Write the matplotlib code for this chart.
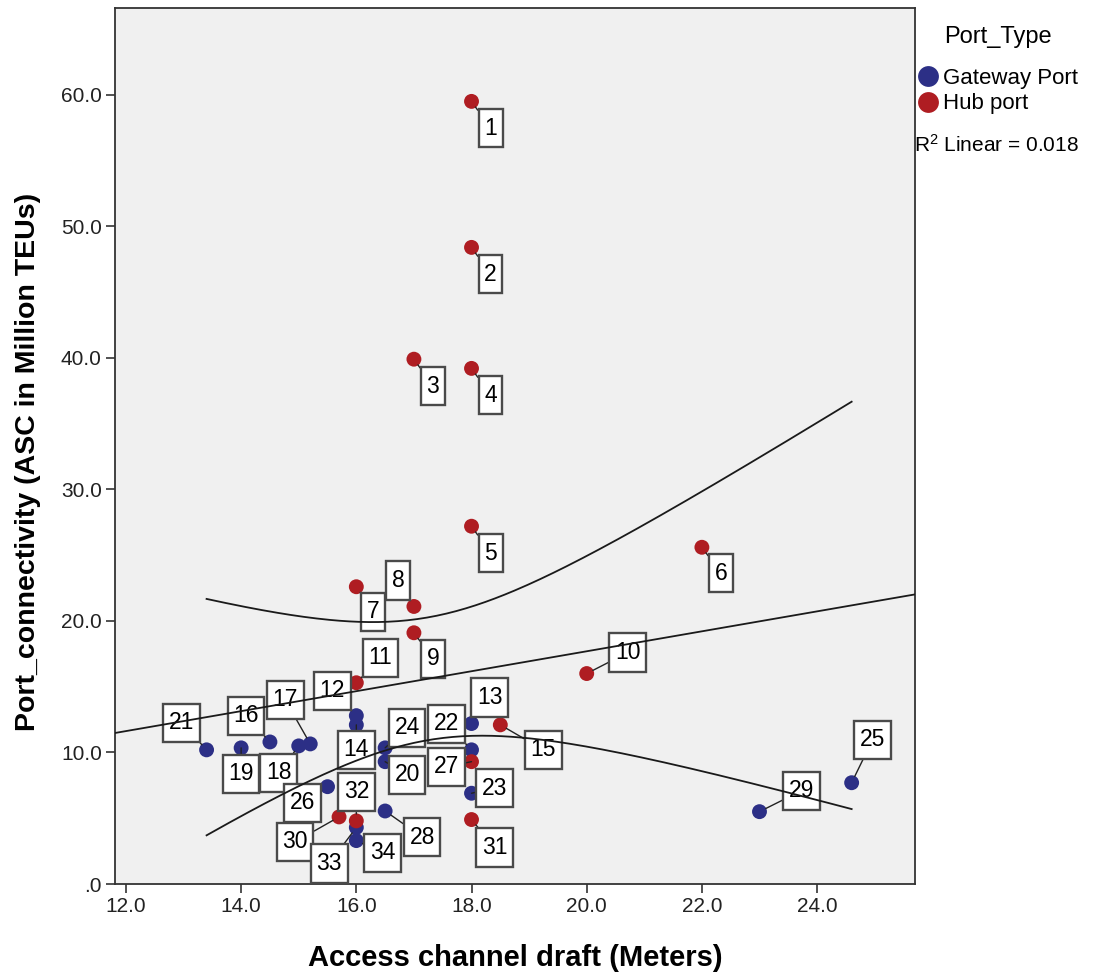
import numpy as np
import matplotlib.pyplot as plt
from matplotlib.lines import Line2D
from matplotlib.path import Path
from matplotlib.ticker import FuncFormatter

# port data: access channel draft (m) vs connectivity
port_ids = list(range(1, 35))
draft = [18, 18, 17, 18, 18, 22, 16, 17, 17, 20, 16,
         16, 18, 16, 18.5, 14.5, 15.2, 15.0, 14.0, 16.5, 13.4,
         18, 18, 16.5, 24.6, 15.5, 18, 16.5, 23.0, 15.7, 18, 16, 16, 16]
connectivity = [59.5, 48.4, 39.9, 39.2, 27.2, 25.6, 22.6, 21.1, 19.1, 16.0, 15.3,
                12.8, 12.2, 12.1, 12.1, 10.8, 10.65, 10.5, 10.35, 9.3, 10.2,
                10.2, 6.9, 10.35, 7.7, 7.4, 9.3, 5.55, 5.5, 5.1, 4.9, 4.8, 4.3, 3.3]
port_type = ["Hub port"] * 11 + ["Gateway Port", "Gateway Port", "Gateway Port", "Hub port"] \
    + ["Gateway Port"] * 11 + ["Hub port", "Gateway Port", "Gateway Port", "Hub port", "Hub port",
                               "Hub port", "Gateway Port", "Gateway Port"]

# label box offsets from each point, in pixels
label_offsets = [(19, -27), (19, -27), (19, -27), (19, -27), (19, -27), (19, -26),
                 (17, -25), (-16, 26), (19, -26), (41, 21), (24, 25), (-24, 25),
                 (18, 26), (0, -25), (43, -25), (-24, 26), (-25, 44), (-20, -27),
                 (0, -26), (22, -13), (-25, 27), (-25, 26), (23, 5), (22, 20),
                 (21, 43), (-25, -16), (-25, -5), (37, -26), (42, 21), (-44, -25),
                 (23, -28), (0, 29), (-27, -36), (26, -12)]

colors = {"Gateway Port": "#2C2F86", "Hub port": "#AF1D22"}
t_crit = 2.0369  # t(0.975, df=32)

plt.rcParams['font.family'] = ['Liberation Sans', 'DejaVu Sans']
plt.rcParams['mathtext.default'] = 'regular'


def tall_box(x0, y0, width, height, mutation_size):
    # SPSS-like label box: more padding top/bottom than sides
    px = 0.245 * mutation_size
    py = 0.33 * mutation_size
    x0, y0 = x0 - px, y0 - py
    x1, y1 = x0 + width + 2 * px, y0 + height + 2 * py
    return Path([(x0, y0), (x1, y0), (x1, y1), (x0, y1), (x0, y0)], closed=True)


W, H = 1095, 975
fig = plt.figure(figsize=(W / 100, H / 100), dpi=100)
ax = fig.add_axes([115 / W, 1 - 884 / H, 800 / W, 876 / H])
ax.set_facecolor('#F0F0F0')

x = np.array(draft, dtype=float)
y = np.array(connectivity, dtype=float)

xlim = (11.81, 25.7)
ylim = (0, 66.6)

# linear fit and 95% mean confidence band
b, a = np.polyfit(x, y, 1)
n = len(x)
resid = y - (a + b * x)
s = np.sqrt(np.sum(resid ** 2) / (n - 2))
sxx = np.sum((x - x.mean()) ** 2)
xs = np.linspace(x.min(), x.max(), 200)
se = s * np.sqrt(1 / n + (xs - x.mean()) ** 2 / sxx)
yfit = a + b * xs
xl = np.array(xlim)
ax.plot(xl, a + b * xl, color='#1a1a1a', lw=1.3, zorder=5)
ax.plot(xs, yfit + t_crit * se, color='#1a1a1a', lw=1.3, zorder=5)
ax.plot(xs, yfit - t_crit * se, color='#1a1a1a', lw=1.3, zorder=5)

for kind in ["Gateway Port", "Hub port"]:
    idx = [i for i, t in enumerate(port_type) if t == kind]
    ax.scatter(x[idx], y[idx], s=115, color=colors[kind], edgecolors='none', zorder=3)

for pid, xi, yi, off in zip(port_ids, x, y, label_offsets):
    ax.annotate(str(pid), (xi, yi), xytext=off, textcoords='offset pixels',
                ha='center', va='center', fontsize=16.5, zorder=4,
                bbox=dict(boxstyle=tall_box, fc='white', ec='#4a4a4a', lw=1.7),
                arrowprops=dict(arrowstyle='-', color='#222222', lw=1.0,
                                shrinkA=0, shrinkB=5))

ax.set_xlim(*xlim)
ax.set_ylim(*ylim)
ax.set_xticks(np.arange(12, 25, 2))
ax.set_yticks(np.arange(0, 61, 10))


def fmt(v, pos):
    s = f"{v:.1f}"
    return s[1:] if s.startswith("0.") else s


ax.xaxis.set_major_formatter(FuncFormatter(fmt))
ax.yaxis.set_major_formatter(FuncFormatter(fmt))
ax.tick_params(direction='out', length=6.5, width=1.2, labelsize=15, pad=3,
               color='#333333', labelcolor='#222222')
for sp in ax.spines.values():
    sp.set_color('#333333')
    sp.set_linewidth(1.3)

fig.text(515 / W, 1 - 958 / H, "Access channel draft (Meters)", fontsize=21,
         fontweight='bold', ha='center', va='center')
fig.text(28 / W, 1 - 462 / H, "Port_connectivity (ASC in Million TEUs)", fontsize=20.5,
         fontweight='bold', ha='center', va='center', rotation=90)

# legend
fig.text(998 / W, 1 - 37 / H, "Port_Type", fontsize=17, ha='center', va='center')
handles = [Line2D([], [], ls='none', marker='o', markersize=15, color=colors[k], mec='none')
           for k in ["Gateway Port", "Hub port"]]
fig.legend(handles, ["Gateway Port", "Hub port"],
           loc='upper left', bbox_to_anchor=(919 / W, 1 - 68 / H),
           frameon=False, fontsize=16, handlelength=0.8,
           handletextpad=0.3, labelspacing=0.2, borderpad=0, borderaxespad=0)
fig.text(914 / W, 1 - 145 / H, "R$^2$ Linear = 0.018", fontsize=15, va='center', ha='left')

fig.savefig("out.png", dpi=100)
